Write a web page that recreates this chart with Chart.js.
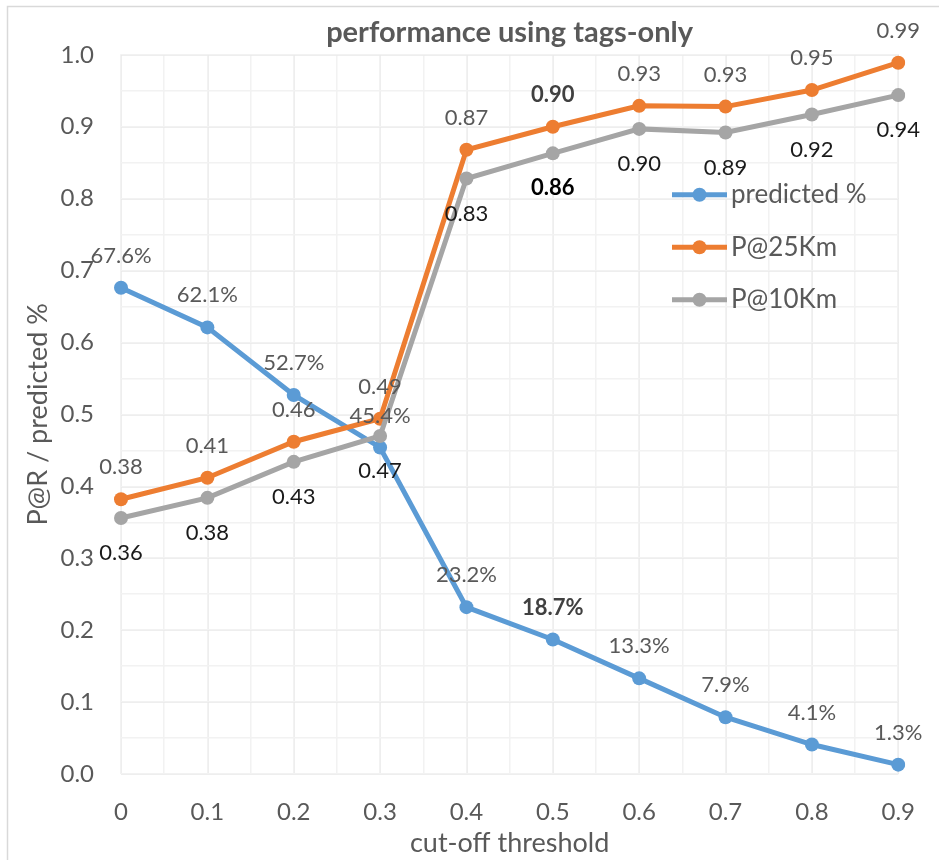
<!DOCTYPE html>
<html>
<head>
<meta charset="utf-8">
<title>performance using tags-only</title>
<script src="https://cdn.jsdelivr.net/npm/chart.js@4.4.1/dist/chart.umd.min.js"></script>
<style>
  html, body { margin: 0; padding: 0; background: #ffffff; overflow: hidden; }
  #wrap { width: 939px; height: 860px; position: relative; }
</style>
</head>
<body>
<div id="wrap"><canvas id="chart"></canvas></div>
<script>
// cut-off thresholds on the x axis
const thresholds = ['0', '0.1', '0.2', '0.3', '0.4', '0.5', '0.6', '0.7', '0.8', '0.9'];
// share of items that still get a prediction at each threshold
const predictedShare = [0.676, 0.621, 0.527, 0.454, 0.232, 0.187, 0.133, 0.079, 0.041, 0.013];
// precision within 25 km
const precisionAt25Km = [0.382, 0.412, 0.462, 0.494, 0.868, 0.900, 0.929, 0.928, 0.951, 0.989];
// precision within 10 km
const precisionAt10Km = [0.356, 0.384, 0.434, 0.470, 0.828, 0.863, 0.897, 0.892, 0.917, 0.944];
// highlighted threshold (labels drawn bold)
const highlightIndex = 5;

const FONT = 'Lato, "Open Sans", sans-serif';
const GREY_TEXT = '#595959';
const COLORS = { predicted: '#5B9BD5', p25: '#ED7D31', p10: '#A5A5A5' };

const seriesLabels = [
  { fmt: v => (v * 100).toFixed(1) + '%', dy: -32, color: GREY_TEXT, bold: '#404040' },
  { fmt: v => v.toFixed(2), dy: -32, color: GREY_TEXT, bold: '#404040' },
  { fmt: v => v.toFixed(2), dy: 35, color: '#1a1a1a', bold: '#000000' }
];

// light frame round the whole chart
const framePlugin = {
  id: 'frame',
  beforeDraw(chart) {
    const ctx = chart.ctx;
    ctx.save();
    ctx.strokeStyle = '#d9d9d9';
    ctx.lineWidth = 1.5;
    ctx.strokeRect(7.5, 6.5, chart.width + 20, chart.height + 20);
    ctx.restore();
  }
};

// value labels next to every point
const valueLabelPlugin = {
  id: 'valueLabels',
  afterDatasetsDraw(chart) {
    const ctx = chart.ctx;
    ctx.save();
    ctx.textAlign = 'center';
    ctx.textBaseline = 'middle';
    chart.data.datasets.forEach((ds, i) => {
      const meta = chart.getDatasetMeta(i);
      const style = seriesLabels[i];
      meta.data.forEach((pt, j) => {
        const bold = j === highlightIndex;
        ctx.font = (bold ? 'bold ' : '') + '22px ' + FONT;
        ctx.fillStyle = bold ? style.bold : style.color;
        ctx.fillText(style.fmt(ds.data[j]), pt.x, pt.y + style.dy);
      });
    });
    ctx.restore();
  }
};

// legend inside the plot area: line sample with a round marker
const insideLegendPlugin = {
  id: 'insideLegend',
  afterDraw(chart) {
    const ctx = chart.ctx;
    const area = chart.chartArea;
    const x0 = area.left + 551;
    const y0 = area.top + 140;
    const rowGap = 52.5;
    ctx.save();
    ctx.font = '26px ' + FONT;
    ctx.textAlign = 'left';
    ctx.textBaseline = 'middle';
    chart.data.datasets.forEach((ds, i) => {
      const y = y0 + i * rowGap;
      ctx.strokeStyle = ds.borderColor;
      ctx.lineWidth = ds.borderWidth;
      ctx.beginPath();
      ctx.moveTo(x0, y);
      ctx.lineTo(x0 + 55, y);
      ctx.stroke();
      ctx.fillStyle = ds.borderColor;
      ctx.beginPath();
      ctx.arc(x0 + 27.5, y, ds.pointRadius, 0, Math.PI * 2);
      ctx.fill();
      ctx.fillStyle = GREY_TEXT;
      ctx.fillText(ds.label, x0 + 59, y);
    });
    ctx.restore();
  }
};

function makeSeries(label, data, color, order) {
  return {
    label, data, order,
    borderColor: color,
    backgroundColor: color,
    borderWidth: 5,
    pointRadius: 7,
    pointHoverRadius: 7,
    pointBorderWidth: 0,
    pointBackgroundColor: color,
    tension: 0,
    fill: false
  };
}

new Chart(document.getElementById('chart'), {
  type: 'line',
  data: {
    labels: thresholds,
    datasets: [
      makeSeries('predicted %', predictedShare, COLORS.predicted, 3),
      makeSeries('P@25Km', precisionAt25Km, COLORS.p25, 2),
      makeSeries('P@10Km', precisionAt10Km, COLORS.p10, 1)
    ]
  },
  options: {
    responsive: true,
    maintainAspectRatio: false,
    animation: false,
    events: [],
    layout: { padding: { left: 0, right: 34, top: 0, bottom: 0 } },
    plugins: {
      legend: { display: false },
      tooltip: { enabled: false },
      title: {
        display: true,
        fullSize: false,
        text: 'performance using tags-only',
        color: GREY_TEXT,
        font: { family: FONT, size: 29, weight: 'bold' },
        padding: { top: 15, bottom: 5 }
      }
    },
    scales: {
      x: {
        type: 'category',
        offset: false,
        z: 0,
        grid: { color: '#d9d9d9', lineWidth: 1.5, drawTicks: false, offset: false },
        border: { display: false },
        ticks: { color: GREY_TEXT, font: { family: FONT, size: 24 }, padding: 24, maxRotation: 0, autoSkip: false },
        title: {
          display: true, text: 'cut-off threshold', color: GREY_TEXT,
          font: { family: FONT, size: 27 }, padding: { top: 0, bottom: 1 }
        },
        afterFit(scale) { scale.height = 86; }
      },
      xMinor: {
        type: 'linear', position: 'bottom', min: 0, max: thresholds.length - 1,
        z: -1,
        ticks: { display: false, stepSize: 0.5 },
        grid: { color: '#f2f2f2', lineWidth: 1.5, drawTicks: false },
        border: { display: false },
        afterFit(scale) { scale.height = 0; }
      },
      y: {
        type: 'linear', min: 0, max: 1,
        z: 0,
        grid: { color: '#d9d9d9', lineWidth: 1.5, drawTicks: false },
        border: { display: false },
        ticks: {
          stepSize: 0.1, color: GREY_TEXT, font: { family: FONT, size: 24 }, padding: 27,
          callback: v => Number(v).toFixed(1)
        },
        title: {
          display: true, text: 'P@R / predicted %', color: GREY_TEXT,
          font: { family: FONT, size: 27 }, padding: { top: 22, bottom: 0 }
        },
        afterFit(scale) { scale.width = 121; }
      },
      yMinor: {
        type: 'linear', position: 'left', min: 0, max: 1,
        z: -1,
        ticks: { display: false, stepSize: 0.05 },
        grid: { color: '#f2f2f2', lineWidth: 1.5, drawTicks: false },
        border: { display: false },
        afterFit(scale) { scale.width = 0; }
      }
    }
  },
  plugins: [framePlugin, valueLabelPlugin, insideLegendPlugin]
});
</script>
</body>
</html>
